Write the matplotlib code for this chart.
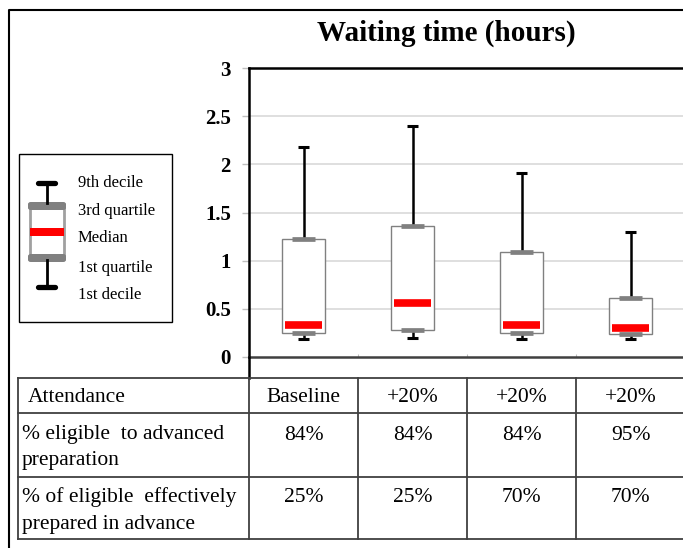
import matplotlib
matplotlib.use("Agg")
import matplotlib.pyplot as plt
from matplotlib.patches import Rectangle, FancyBboxPatch
from matplotlib.lines import Line2D

# ---------------- data ----------------
scenarios = ["Baseline", "+20%", "+20%", "+20%"]
decile1 = [0.19, 0.20, 0.19, 0.19]
quartile1 = [0.25, 0.28, 0.25, 0.235]
medians = [0.33, 0.56, 0.33, 0.30]
quartile3 = [1.23, 1.36, 1.09, 0.61]
decile9 = [2.18, 2.40, 1.91, 1.30]

row_labels = ["Attendance",
              "% eligible  to advanced\npreparation",
              "% of eligible  effectively\nprepared in advance"]
pct_eligible = ["84%", "84%", "84%", "95%"]
pct_prepared = ["25%", "25%", "70%", "70%"]

yticks = [0, 0.5, 1, 1.5, 2, 2.5, 3]
ytick_labels = ["0", "0.5", "1", "1.5", "2", "2.5", "3"]
legend_labels = ["9th decile", "3rd quartile", "Median", "1st quartile", "1st decile"]

SERIF = "Liberation Serif"
W, H = 683, 548
fig = plt.figure(figsize=(W / 100, H / 100), dpi=100)

def fx(x):
    return x / W

def fy(y):
    return 1 - y / H

# ---------------- main axes ----------------
ax_l, ax_r, ax_t, ax_b = 249, 685, 68, 357
ax = fig.add_axes([fx(ax_l), fy(ax_b), fx(ax_r) - fx(ax_l), fy(ax_t) - fy(ax_b)])
ax.set_xlim(0, 4)
ax.set_ylim(0, 3)
ax.set_yticks(yticks)
ax.set_yticklabels(ytick_labels, fontfamily=SERIF, fontweight="bold", fontsize=15)
ax.tick_params(axis="y", length=5, color="#bfbfbf", width=1, pad=8)
ax.set_xticks([1, 2, 3])
ax.set_xticklabels([])
ax.tick_params(axis="x", direction="in", length=2, color="#bfbfbf")
for y in yticks[1:-1]:
    ax.axhline(y, color="#d9d9d9", lw=1.2, zorder=0)
ax.spines["left"].set_linewidth(1.8)
ax.spines["left"].set_color("black")
ax.spines["top"].set_linewidth(1.8)
ax.spines["top"].set_color("black")
ax.spines["bottom"].set_linewidth(1.8)
ax.spines["bottom"].set_color("#404040")
ax.spines["right"].set_visible(False)

box_w, med_w, qcap_w, wcap_w = 0.40, 0.34, 0.22, 0.10
for i in range(len(scenarios)):
    c = i + 0.5
    # whiskers
    ax.vlines(c, quartile3[i], decile9[i], color="black", lw=1.8, zorder=2)
    ax.vlines(c, decile1[i], quartile1[i], color="black", lw=1.8, zorder=2)
    ax.hlines(decile9[i], c - wcap_w / 2, c + wcap_w / 2, color="black", lw=2.2, zorder=3)
    ax.hlines(decile1[i], c - wcap_w / 2, c + wcap_w / 2, color="black", lw=2.2, zorder=3)
    # box
    ax.add_patch(Rectangle((c - box_w / 2, quartile1[i]), box_w, quartile3[i] - quartile1[i],
                           facecolor="white", edgecolor="#808080", lw=1.0, zorder=3))
    # quartile marks
    ax.hlines([quartile1[i], quartile3[i]], c - qcap_w / 2, c + qcap_w / 2,
              color="#808080", lw=3.4, zorder=4)
    # median
    ax.hlines(medians[i], c - med_w / 2, c + med_w / 2, color="#ff0000", lw=5.5, zorder=5)

# continuation of left spine down to the table
fig.add_artist(Line2D([fx(249), fx(249)], [fy(357), fy(378)], color="black", lw=1.8))

# ---------------- title ----------------
fig.text(fx(446), fy(33), "Waiting time (hours)", fontfamily=SERIF, fontweight="bold",
         fontsize=21, ha="center", va="center")

# ---------------- outer frame ----------------
fig.add_artist(Line2D([fx(9), fx(9), fx(700)], [fy(560), fy(10), fy(10)], color="black", lw=1.5))

# ---------------- legend ----------------
fig.add_artist(Rectangle((fx(19), fy(322)), fx(172) - fx(19), fy(154) - fy(322),
                         transform=fig.transFigure, facecolor="white", edgecolor="black", lw=1.0))
gx = 46.5
fig.add_artist(Line2D([fx(gx), fx(gx)], [fy(183), fy(203)], color="black", lw=2.0))
fig.add_artist(Line2D([fx(gx), fx(gx)], [fy(260), fy(287)], color="black", lw=2.0))
fig.add_artist(Line2D([fx(38), fx(55)], [fy(183), fy(183)], color="black", lw=3.8,
                      solid_capstyle="round"))
fig.add_artist(Line2D([fx(38), fx(55)], [fy(287), fy(287)], color="black", lw=3.8,
                      solid_capstyle="round"))
fig.add_artist(Rectangle((fx(30), fy(258)), fx(64) - fx(30), fy(206) - fy(258),
                         transform=fig.transFigure, facecolor="white", edgecolor="#a0a0a0", lw=2.0))
fig.add_artist(FancyBboxPatch((fx(28), fy(210)), fx(66) - fx(28), fy(202) - fy(210),
                              boxstyle="round,pad=0,rounding_size=0.004",
                              transform=fig.transFigure, facecolor="#808080", edgecolor="none"))
fig.add_artist(FancyBboxPatch((fx(28), fy(262)), fx(66) - fx(28), fy(254) - fy(262),
                              boxstyle="round,pad=0,rounding_size=0.004",
                              transform=fig.transFigure, facecolor="#808080", edgecolor="none"))
fig.add_artist(Rectangle((fx(30), fy(236)), fx(64) - fx(30), fy(228) - fy(236),
                         transform=fig.transFigure, facecolor="#ff0000", edgecolor="none"))
for lab, yy in zip(legend_labels, [183, 211, 238, 268, 295]):
    fig.text(fx(78), fy(yy), lab, fontfamily=SERIF, fontsize=12, ha="left", va="center")

# ---------------- table ----------------
row_y = [378, 413, 477, 539]
col_x = [249, 358, 467, 576, 685]
t_left = 18
lc = "#404040"
for y in row_y:
    fig.add_artist(Line2D([fx(t_left), fx(700)], [fy(y), fy(y)], color=lc, lw=1.3))
for x in [t_left] + col_x:
    fig.add_artist(Line2D([fx(x), fx(x)], [fy(row_y[0]), fy(row_y[-1])], color=lc, lw=1.3))

fs = 15.5
fig.text(fx(28), fy(398), row_labels[0], fontfamily=SERIF, fontsize=fs, ha="left", va="center")
for k, yy in ((1, 434), (2, 497)):
    lines = row_labels[k].split("\n")
    fig.text(fx(22), fy(yy), lines[0], fontfamily=SERIF, fontsize=fs, ha="left", va="center")
    fig.text(fx(22), fy(yy + 27), lines[1], fontfamily=SERIF, fontsize=fs, ha="left", va="center")

for j in range(len(scenarios)):
    cx = (col_x[j] + col_x[j + 1]) / 2
    fig.text(fx(cx), fy(398), scenarios[j], fontfamily=SERIF, fontsize=fs, ha="center", va="center")
    fig.text(fx(cx), fy(435), pct_eligible[j], fontfamily=SERIF, fontsize=fs, ha="center", va="center")
    fig.text(fx(cx), fy(497), pct_prepared[j], fontfamily=SERIF, fontsize=fs, ha="center", va="center")

fig.savefig("out.png", dpi=100)
